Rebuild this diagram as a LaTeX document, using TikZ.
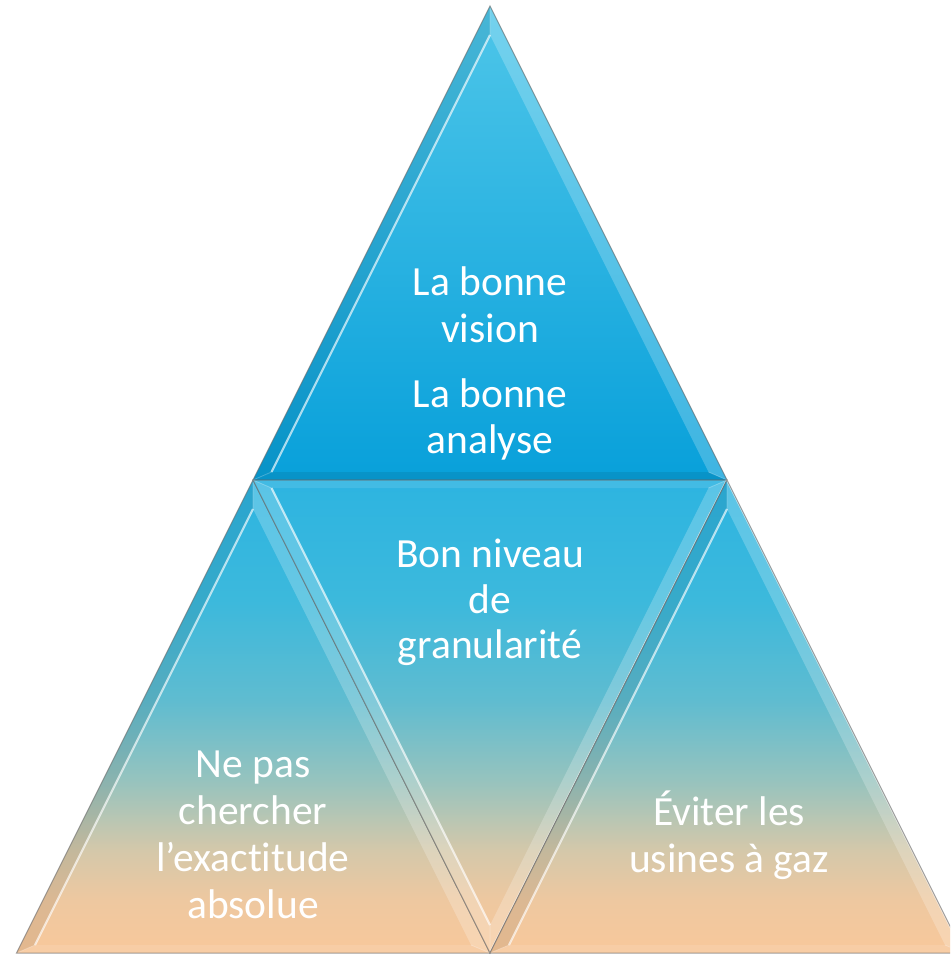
\documentclass[tikz,border=0pt]{standalone}
\usepackage{fontspec}
\setmainfont{Carlito}[Ligatures=NoCommon]
\definecolor{topA}{RGB}{78,198,233}
\definecolor{topB}{RGB}{8,160,218}
\pgfdeclareverticalshading{peachblue}{100bp}{rgb(0bp)=(.973,.784,.608); rgb(25bp)=(.973,.784,.608); rgb(30.6bp)=(.933,.784,.627); rgb(35.9bp)=(.831,.784,.667); rgb(43.3bp)=(.588,.765,.745); rgb(51.7bp)=(.373,.737,.816); rgb(62.3bp)=(.235,.725,.863); rgb(75bp)=(.176,.706,.882); rgb(100bp)=(.176,.706,.882)}
\tikzset{
  outline/.style={draw=black!60, draw opacity=0.6, line width=1pt, line join=miter},
  darkface/.style={fill=black, fill opacity=0.08},
  lightface/.style={fill=white, fill opacity=0.22},
  paleface/.style={fill=white, fill opacity=0.10},
  shine/.style={draw=white, draw opacity=0.65, line width=2.2pt},
  crease/.style={draw=white, draw opacity=0.25, line width=0.8pt},
  lbl/.style={text=white, font=\fontsize{41.5}{47}\selectfont, anchor=base, inner sep=0pt}
}
\begin{document}
\begin{tikzpicture}[x=1pt,y=-1pt]
\useasboundingbox (0,0) rectangle (950,957);
\clip (0,0) rectangle (950,957);
% vertices
\coordinate (To1) at (490,6);   \coordinate (To2) at (253,480); \coordinate (To3) at (727,480);
\coordinate (Ti1) at (490,35);  \coordinate (Ti2) at (271.5,472); \coordinate (Ti3) at (708.5,472);
\coordinate (Lo1) at (253,480); \coordinate (Lo2) at (16.5,953); \coordinate (Lo3) at (490,953);
\coordinate (Li1) at (253,509); \coordinate (Li2) at (35,945);   \coordinate (Li3) at (471,945);
\coordinate (Mo1) at (253,480); \coordinate (Mo2) at (727,480);  \coordinate (Mo3) at (490,953);
\coordinate (Mi1) at (271.5,488); \coordinate (Mi2) at (708.5,488); \coordinate (Mi3) at (490,925);
\coordinate (Ro1) at (727,480); \coordinate (Ro2) at (490,953);  \coordinate (Ro3) at (963.5,953);
\coordinate (Ri1) at (727,509); \coordinate (Ri2) at (509,945);  \coordinate (Ri3) at (945,945);

% ---- top triangle
\shade[top color=topA, bottom color=topB] (To1) -- (To2) -- (To3) -- cycle;
\fill[darkface] (To1) -- (To2) -- (Ti2) -- (Ti1) -- cycle;
\fill[darkface] (To2) -- (To3) -- (Ti3) -- (Ti2) -- cycle;
\fill[lightface] (To3) -- (To1) -- (Ti1) -- (Ti3) -- cycle;
\draw[shine] (Ti1) -- (Ti2);
\draw[crease] (To1) -- (Ti1) (To2) -- (Ti2) (To3) -- (Ti3);
\draw[outline] (To1) -- (To2) -- (To3) -- cycle;

% ---- left triangle
\shade[shading=peachblue] (Lo1) -- (Lo2) -- (Lo3) -- cycle;
\fill[darkface] (Lo1) -- (Lo2) -- (Li2) -- (Li1) -- cycle;
\fill[paleface] (Lo2) -- (Lo3) -- (Li3) -- (Li2) -- cycle;
\fill[lightface] (Lo3) -- (Lo1) -- (Li1) -- (Li3) -- cycle;
\draw[shine] (Li1) -- (Li2);
\draw[crease] (Lo1) -- (Li1) (Lo2) -- (Li2) (Lo3) -- (Li3);
\draw[outline] (Lo1) -- (Lo2) -- (Lo3) -- cycle;

% ---- middle (inverted) triangle
\shade[shading=peachblue] (Mo1) -- (Mo2) -- (Mo3) -- cycle;
\fill[paleface] (Mo1) -- (Mo2) -- (Mi2) -- (Mi1) -- cycle;
\fill[lightface] (Mo2) -- (Mo3) -- (Mi3) -- (Mi2) -- cycle;
\fill[lightface] (Mo3) -- (Mo1) -- (Mi1) -- (Mi3) -- cycle;
\draw[shine] (Mi1) -- (Mi3);
\draw[shine] (Mo2) -- (Mo3);
\draw[crease] (Mo1) -- (Mi1) (Mo2) -- (Mi2) (Mo3) -- (Mi3);
\draw[outline] (Mo1) -- (Mo2) -- (Mo3) -- cycle;

% ---- right triangle
\shade[shading=peachblue] (Ro1) -- (Ro2) -- (Ro3) -- cycle;
\fill[darkface] (Ro1) -- (Ro2) -- (Ri2) -- (Ri1) -- cycle;
\fill[paleface] (Ro2) -- (Ro3) -- (Ri3) -- (Ri2) -- cycle;
\fill[lightface] (Ro3) -- (Ro1) -- (Ri1) -- (Ri3) -- cycle;
\draw[shine] (Ri1) -- (Ri2);
\draw[shine] (Ro1) -- (Ro3);
\draw[crease] (Ro1) -- (Ri1) (Ro2) -- (Ri2) (Ro3) -- (Ri3);
\draw[outline] (Ro1) -- (Ro2) -- (Ro3) -- cycle;

% ---- texts
\node[lbl] (top1) at (490,295) {La bonne};
\node[lbl] (top2) at (490,342) {vision};
\node[lbl] (top3) at (490,407) {La bonne};
\node[lbl] (top4) at (490,453) {analyse};

\node[lbl] (mid1) at (490,567) {Bon niveau};
\node[lbl] (mid2) at (490,613) {de};
\node[lbl] (mid3) at (490,658) {granularité};

\node[lbl] (left1) at (253,777) {Ne pas};
\node[lbl] (left2) at (253,824) {chercher};
\node[lbl] (left3) at (253,871) {l’exactitude};
\node[lbl] (left4) at (253,918) {absolue};

\node[lbl] (right1) at (729,825) {Éviter les};
\node[lbl] (right2) at (729,872) {usines à gaz};
\end{tikzpicture}
\end{document}
